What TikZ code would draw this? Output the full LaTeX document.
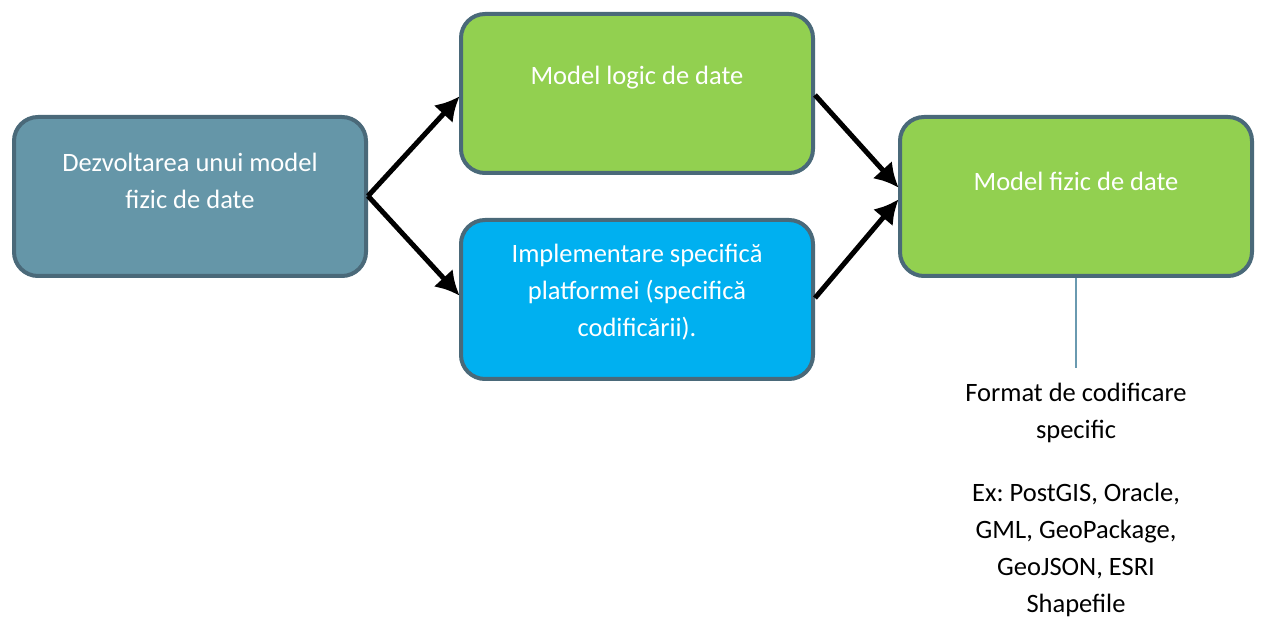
\documentclass[tikz,border=0pt]{standalone}
\usepackage{fontspec}
\setmainfont{Carlito}
\frenchspacing
\usetikzlibrary{arrows.meta}
\definecolor{edgec}{HTML}{4A6979}
\definecolor{steelc}{HTML}{6596A8}
\definecolor{greenc}{HTML}{92D050}
\definecolor{bluec}{HTML}{00B0F0}
\definecolor{linkc}{HTML}{6A9AB0}
\tikzset{
  boxshape/.style={draw=edgec, line width=4pt, rounded corners=24pt, minimum width=352pt, minimum height=159pt, inner sep=0pt},
  boxtext/.style={text=white, font=\fontsize{26.5}{37}\selectfont, align=center, inner sep=0pt},
  plaintext/.style={text=black, font=\fontsize{26.5}{37}\selectfont, align=center, inner sep=0pt},
  arr/.style={line width=5pt, -{Latex[length=24pt,width=26pt]}, shorten >=-1pt}
}
\begin{document}
\begin{tikzpicture}[x=1pt, y=-1pt]
\useasboundingbox (0,0) rectangle (1262,620);
\node[boxshape, fill=steelc] (b1) at (190,196.5) {};
\node[boxshape, fill=greenc] (b2) at (637,93.5) {};
\node[boxshape, fill=bluec] (b3) at (637,299.5) {};
\node[boxshape, fill=greenc] (b4) at (1076,196.5) {};
\node[boxtext] (t1) at (190,181) {Dezvoltarea unui model\\fizic de date};
\node[boxtext] (t2) at (637,78) {Model logic de date};
\node[boxtext] (t3) at (637,292) {Implementare specifică\\platformei (specifică\\codificării).};
\node[boxtext] (t4) at (1076,181) {Model fizic de date};
\coordinate (p1) at (368,196);
\draw[arr] (p1) -- (b2.west |- 0,97);
\draw[arr] (p1) -- (b3.west |- 0,295);
\draw[arr] (b2.east |- 0,95) -- (b4.west |- 0,187);
\draw[arr] (b3.east |- 0,298) -- (b4.west |- 0,200);
\node[plaintext] (t5) at (1076,500) {Format de codificare\\specific\\[26pt]Ex: PostGIS, Oracle,\\GML, GeoPackage,\\GeoJSON, ESRI\\Shapefile};
\coordinate (c1) at (1076,368);
\draw[linkc, line width=2pt] (b4.south) -- (c1);
\end{tikzpicture}
\end{document}
